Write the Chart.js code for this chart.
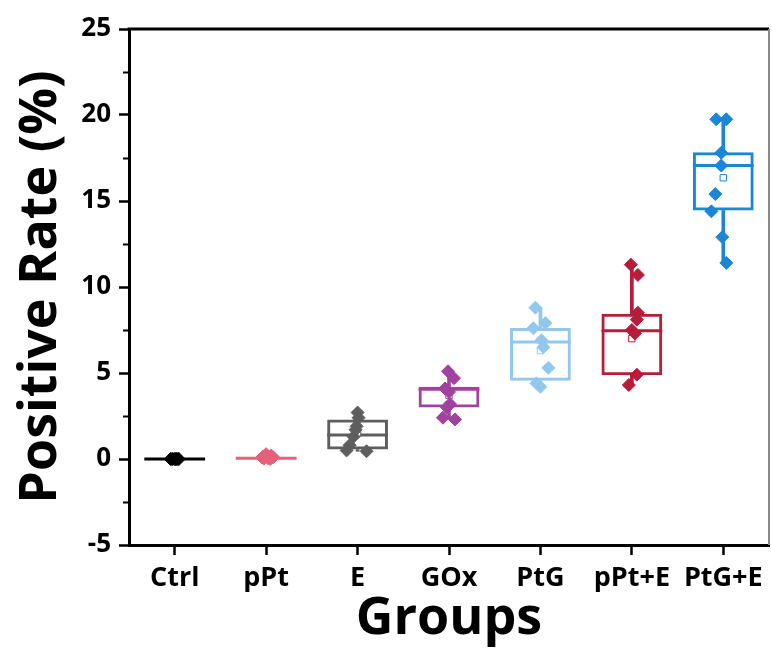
<!DOCTYPE html>
<html>
<head>
<meta charset="utf-8">
<script src="https://cdn.jsdelivr.net/npm/chart.js@4.4.1/dist/chart.umd.min.js"></script>
<style>
  html, body { margin: 0; padding: 0; background: #fff; }
  #wrap { width: 772px; height: 650px; position: relative; }
</style>
</head>
<body>
<div id="wrap"><canvas id="boxChart"></canvas></div>
<script>
// ===== data =====
const groups = ['Ctrl', 'pPt', 'E', 'GOx', 'PtG', 'pPt+E', 'PtG+E'];
const groupColors = ['#000000', '#E5607A', '#5E5E5E', '#A2429F', '#93C8EE', '#B71C3A', '#1B87D4'];

const q1          = [0, 0.02, 0.55, 3.0, 4.55, 4.87, 14.45];
const median      = [0, 0.05, 1.4, 4.05, 6.8, 7.45, 17.06];
const q3          = [0, 0.1, 2.3, 4.2, 7.62, 8.45, 17.83];
const whiskerLow  = [0, 0, 0.45, 2.3, 4.2, 4.3, 11.4];
const whiskerHigh = [0, 0.28, 2.7, 5.1, 8.8, 11.3, 19.75];
const mean        = [0, 0.1, 1.5, 3.7, 6.3, 7.0, 16.35];

const ptsCtrl = [0, 0, 0, 0, 0, 0, 0, 0];
const ptsPPt  = [0.28, 0.2, 0.15, 0.1, 0.08, 0.05, 0.02, 0];
const ptsE    = [2.7, 2.4, 1.9, 1.7, 1.3, 0.8, 0.5, 0.45];
const ptsGOx  = [5.1, 4.7, 4.1, 3.9, 3.2, 3.0, 2.4, 2.3];
const ptsPtG  = [8.8, 7.9, 7.6, 6.9, 6.5, 5.3, 4.4, 4.2];
const ptsPPtE = [11.3, 10.7, 8.5, 8.1, 7.5, 7.3, 4.9, 4.3];
const ptsPtGE = [19.75, 19.75, 17.8, 17.06, 15.4, 14.4, 12.9, 11.4];

// horizontal scatter of the points, in category units
const jitCtrl = [-0.045, -0.02, 0, 0.02, 0.045, -0.03, 0.01, 0.035];
const jitPPt  = [0, 0.055, -0.033, 0.077, -0.044, 0.022, -0.022, 0.044];
const jitE    = [0, 0.011, -0.011, -0.022, -0.044, -0.087, -0.12, 0.098];
const jitGOx  = [-0.011, 0.055, -0.044, 0, 0.011, -0.022, -0.066, 0.066];
const jitPtG  = [-0.055, 0.055, -0.077, 0.011, 0.033, 0.087, -0.044, 0];
const jitPPtE = [-0.011, 0.066, 0.066, 0.055, 0, 0.033, 0.055, -0.033];
const jitPtGE = [-0.077, 0.033, -0.022, -0.022, -0.087, -0.13, -0.011, 0.033];

const yMin = -5, yMax = 25, yStep = 5;

const allPts = [ptsCtrl, ptsPPt, ptsE, ptsGOx, ptsPtG, ptsPPtE, ptsPtGE];
const allJit = [jitCtrl, jitPPt, jitE, jitGOx, jitPtG, jitPPtE, jitPtGE];

const BOX_PCT = 0.665;
const FONT = "'Open Sans', 'Noto Sans', sans-serif";

// ===== datasets (one linear x axis, group i sits at x = i) =====
const pointSets = allPts.map((pts, g) => ({
    type: 'scatter',
    data: pts.map((v, i) => ({ x: g + allJit[g][i], y: v })),
    pointStyle: 'rectRot',
    pointRadius: 6.5,
    pointBorderWidth: 1,
    backgroundColor: groupColors[g],
    borderColor: groupColors[g],
    order: 0
}));

const datasets = [
    {   // lower whisker
        type: 'bar',
        data: groups.map((_, i) => ({ x: i, y: [whiskerLow[i], q1[i]] })),
        backgroundColor: groupColors,
        borderWidth: 0,
        barThickness: 3,
        grouped: false,
        order: 5
    },
    {   // upper whisker
        type: 'bar',
        data: groups.map((_, i) => ({ x: i, y: [q3[i], whiskerHigh[i]] })),
        backgroundColor: groupColors,
        borderWidth: 0,
        barThickness: 3,
        grouped: false,
        order: 5
    },
    {   // box q1..q3
        type: 'bar',
        data: groups.map((_, i) => ({ x: i, y: [q1[i], q3[i]] })),
        backgroundColor: 'rgba(0,0,0,0)',
        borderColor: groupColors,
        borderWidth: 3,
        borderSkipped: false,
        barPercentage: BOX_PCT,
        categoryPercentage: 1,
        grouped: false,
        order: 4
    },
    {   // median line
        type: 'line',
        data: groups.map((_, i) => ({ x: i, y: median[i] })),
        showLine: false,
        pointStyle: 'line',
        pointRadius: ctx => ctx.chart.chartArea ? ctx.chart.chartArea.width / groups.length * BOX_PCT / 2 : 30,
        pointBorderWidth: 3,
        borderColor: groupColors,
        pointBorderColor: groupColors,
        order: 3
    },
    {   // mean marker
        type: 'line',
        data: groups.map((_, i) => ({ x: i, y: mean[i] })),
        showLine: false,
        pointStyle: 'rect',
        pointRadius: 4.5,
        pointBorderWidth: 1,
        pointBackgroundColor: '#ffffff',
        pointBorderColor: groupColors,
        order: 2
    },
    ...pointSets
];

// ===== plugins =====
const frameAndMinor = {
    id: 'frameAndMinor',
    afterDraw(chart) {
        const { ctx, chartArea: a, scales: { y } } = chart;
        ctx.save();
        // top frame
        ctx.strokeStyle = '#000';
        ctx.lineWidth = 3;
        ctx.beginPath();
        ctx.moveTo(a.left - 1.5, a.top);
        ctx.lineTo(a.right, a.top);
        ctx.stroke();
        // right frame
        ctx.strokeStyle = '#8a8a8a';
        ctx.lineWidth = 2;
        ctx.beginPath();
        ctx.moveTo(a.right, a.top);
        ctx.lineTo(a.right, a.bottom);
        ctx.stroke();
        // minor y ticks
        ctx.strokeStyle = '#000';
        ctx.lineWidth = 2;
        for (let v = yMin + yStep / 2; v < yMax; v += yStep) {
            const py = Math.round(y.getPixelForValue(v)) + 0.5;
            ctx.beginPath();
            ctx.moveTo(a.left - 6, py);
            ctx.lineTo(a.left, py);
            ctx.stroke();
        }
        ctx.restore();
    }
};

new Chart(document.getElementById('boxChart'), {
    type: 'bar',
    data: { datasets: datasets },
    options: {
        responsive: true,
        maintainAspectRatio: false,
        animation: false,
        layout: { autoPadding: false, padding: { top: 29, right: 3, left: 0, bottom: 0 } },
        plugins: { legend: { display: false }, tooltip: { enabled: false } },
        scales: {
            x: {
                type: 'linear',
                min: -0.5,
                max: groups.length - 0.5,
                offset: false,
                afterBuildTicks(scale) {
                    scale.ticks = groups.map((_, i) => ({ value: i }));
                },
                grid: { display: true, drawOnChartArea: false, offset: false, tickLength: 10, tickWidth: 2.5, tickColor: '#000' },
                border: { display: true, color: '#000', width: 3 },
                ticks: {
                    color: '#000', font: { family: FONT, size: 27, weight: 'bold' }, padding: 7,
                    maxRotation: 0, autoSkip: false,
                    callback: v => groups[v]
                },
                title: { display: true, text: 'Groups', color: '#000', font: { family: FONT, size: 52, weight: 'bold' }, padding: { top: 0, bottom: 0 } },
                afterFit(scale) { scale.height = 105; scale.paddingLeft = 0; scale.paddingRight = 0; }
            },
            y: {
                min: yMin,
                max: yMax,
                ticks: { stepSize: yStep, color: '#000', font: { family: FONT, size: 26, weight: 'bold' }, padding: 8 },
                grid: { display: true, drawOnChartArea: false, tickLength: 10, tickWidth: 2.5, tickColor: '#000' },
                border: { display: true, color: '#000', width: 3 },
                title: { display: true, text: 'Positive Rate (%)', color: '#000', font: { family: FONT, size: 52, weight: 'bold' }, padding: { top: 10, bottom: 0 } },
                afterFit(scale) { scale.width = 129; scale.paddingTop = 0; scale.paddingBottom = 0; }
            }
        }
    },
    plugins: [frameAndMinor]
});
</script>
</body>
</html>
